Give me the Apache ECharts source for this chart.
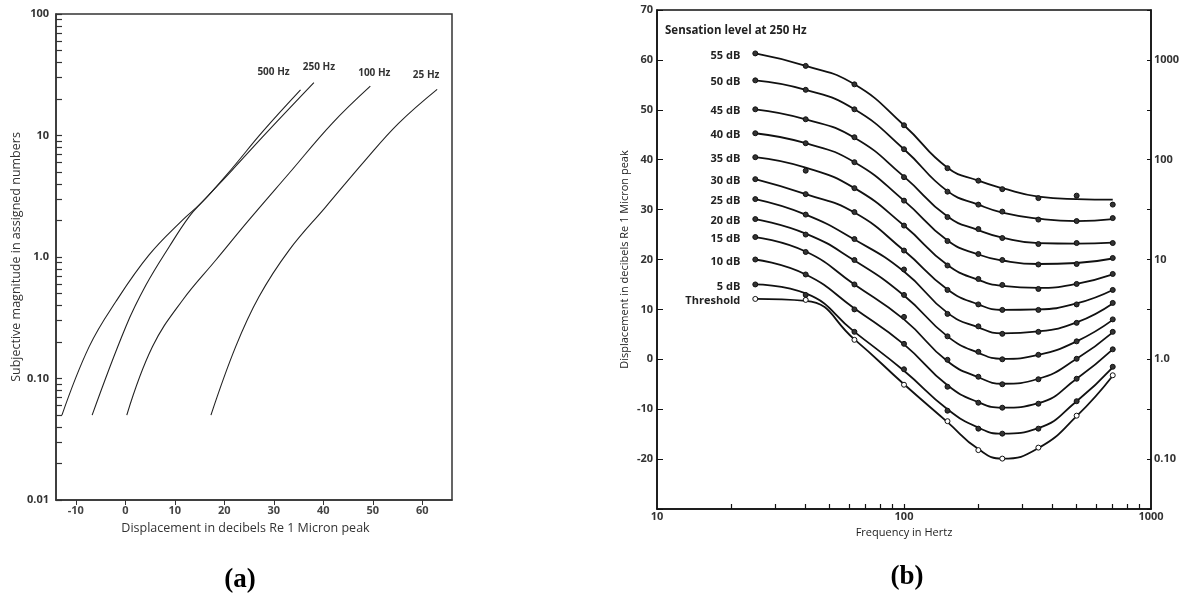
<!DOCTYPE html>
<html><head><meta charset="utf-8">
<script src="https://cdn.jsdelivr.net/npm/echarts@6/dist/echarts.min.js"></script>
<style>html,body{margin:0;padding:0;background:#fff}#c{width:1183px;height:594px}</style>
</head><body><div id="c"></div>
<script>
// ---------- Panel (a) data ----------
const curveNamesA = ['500 Hz', '250 Hz', '100 Hz', '25 Hz'];
const hz500X = [-12.8, -7.3, -1.9, 4.8, 11.6, 15.6, 21.3, 27.7, 35.4];
const hz500Y = [0.05, 0.183, 0.43, 1.04, 2.02, 2.85, 5.2, 10.7, 23.7];
const hz250X = [-6.7, 0.1, 4.2, 8.9, 12.9, 15.6, 21.6, 28.4, 38.1];
const hz250Y = [0.05, 0.267, 0.59, 1.22, 2.15, 2.85, 5.2, 10.4, 27.2];
const hz100X = [0.3, 5.5, 11.6, 18.3, 25.0, 33.1, 41.8, 49.5];
const hz100Y = [0.05, 0.183, 0.443, 0.945, 2.02, 4.89, 12.6, 25.5];
const hz25X = [17.3, 22.3, 27.0, 33.1, 40.5, 48.5, 55.2, 63.0];
const hz25Y = [0.05, 0.183, 0.471, 1.14, 2.59, 6.28, 12.6, 24.0];
const xTicksA = [-10, 0, 10, 20, 30, 40, 50, 60];
const yTicksA = [0.01, 0.1, 1, 10, 100];
const yTickLabelsA = ['0.01', '0.10', '1.0', '10', '100'];
const yMinorTicksA = [0.01,0.02,0.03,0.04,0.05,0.06,0.07,0.08,0.09,
  0.1,0.2,0.3,0.4,0.5,0.6,0.7,0.8,0.9,1,2,3,4,5,6,7,8,9,10,20,30,40,50,60,70,80,90,100];

// ---------- Panel (b) data ----------
const freqs = [25, 40, 63, 100, 150, 200, 250, 350, 500, 700];
const levelNames = ['Threshold','5 dB','10 dB','15 dB','20 dB','25 dB','30 dB','35 dB','40 dB','45 dB','50 dB','55 dB'];
// measured points (dots)
const dotTh = [12.1, 11.9, 3.9, -5.1, -12.4, -18.2, -19.9, -17.7, -11.3, -3.2];
const dot5  = [15.0, 12.9, 5.5, -2.0, -10.3, -13.9, -14.9, -13.9, -8.4, -1.5];
const dot10 = [20.0, 17.0, 10.0, 3.1, -5.5, -8.7, -9.7, -8.9, -3.9, 2.0];
const dot15 = [24.5, 21.5, 15.0, 8.5, -0.1, -3.5, -5.0, -4.0, 0.1, 5.5];
const dot20 = [28.1, 25.0, 19.9, 12.9, 4.6, 1.5, 0.0, 0.9, 3.6, 8.0];
const dot25 = [32.1, 29.0, 24.1, 18.0, 9.1, 6.6, 5.1, 5.5, 7.3, 11.3];
const dot30 = [36.1, 33.1, 29.5, 21.8, 13.9, 11.0, 9.9, 9.9, 11.0, 13.9];
const dot35 = [40.5, 37.8, 34.3, 26.8, 18.8, 16.1, 14.9, 14.1, 15.1, 17.1];
const dot40 = [45.3, 43.3, 39.5, 31.8, 23.7, 21.1, 19.9, 19.0, 19.1, 20.3];
const dot45 = [50.1, 48.1, 44.5, 36.5, 28.5, 26.1, 24.3, 23.1, 23.3, 23.3];
const dot50 = [55.9, 54.0, 50.1, 42.1, 33.6, 31.0, 29.6, 28.0, 27.7, 28.3];
const dot55 = [61.3, 58.8, 55.1, 46.9, 38.3, 35.8, 34.1, 32.3, 32.8, 31.0];
// fitted curves (line position read at the same frequencies)
const fitTh = [12.1, 11.7, 4.0, -5.0, -12.6, -18.0, -19.9, -17.8, -11.4, -3.3];
const fit5  = [15.0, 13.2, 5.5, -2.3, -10.0, -13.7, -14.9, -13.8, -8.4, -1.6];
const fit10 = [20.0, 17.0, 10.2, 3.0, -5.2, -8.6, -9.7, -8.8, -3.9, 2.0];
const fit15 = [24.5, 21.6, 15.0, 8.0, -0.4, -3.6, -4.9, -3.9, 0.1, 5.4];
const fit20 = [28.1, 25.2, 19.8, 12.8, 4.6, 1.3, 0.1, 0.9, 3.6, 7.9];
const fit25 = [32.1, 29.0, 24.0, 17.6, 9.3, 6.4, 5.2, 5.6, 7.4, 11.2];
const fit30 = [36.1, 33.1, 29.4, 21.8, 14.0, 11.0, 9.9, 10.0, 11.2, 13.9];
const fit35 = [40.5, 38.4, 34.3, 26.8, 18.9, 15.9, 14.7, 14.3, 15.1, 17.0];
const fit40 = [45.3, 43.3, 39.5, 31.8, 23.8, 21.0, 19.8, 19.1, 19.3, 20.2];
const fit45 = [50.1, 48.1, 44.4, 36.6, 28.6, 25.9, 24.4, 23.3, 23.2, 23.4];
const fit50 = [55.9, 54.0, 50.1, 42.1, 33.7, 31.0, 29.4, 28.2, 27.7, 28.1];
const fit55 = [61.3, 58.8, 55.1, 46.9, 38.4, 35.8, 34.3, 32.6, 32.1, 32.0];
const xMinorTicksB = [20,30,40,50,60,70,80,90,100,200,300,400,500,600,700,800,900];
const xTickLabelsB = ['10', '100', '1000'];
const rightTickDb = [-20, 0, 20, 40, 60];
const rightTickLabels = ['0.10', '1.0', '10', '100', '1000'];

// ---------- build ----------
const F = 'Open Sans';
const seriesA = [[hz500X, hz500Y], [hz250X, hz250Y], [hz100X, hz100Y], [hz25X, hz25Y]];
const labelPosA = [[-27, -18], [5, -16], [4, -13], [-11, -14]];
const dotsB = [dotTh, dot5, dot10, dot15, dot20, dot25, dot30, dot35, dot40, dot45, dot50, dot55];
const fitsB = [fitTh, fit5, fit10, fit15, fit20, fit25, fit30, fit35, fit40, fit45, fit50, fit55];

const series = [];
seriesA.forEach((pair, k) => {
  const xs = pair[0], ys = pair[1];
  series.push({
    type: 'line', name: curveNamesA[k], xAxisIndex: 0, yAxisIndex: 0,
    smooth: 0.4, symbol: 'circle', symbolSize: 0, showSymbol: true,
    lineStyle: {color: '#222', width: 1.1}, itemStyle: {color: '#222'},
    silent: true, animation: false,
    data: xs.map((x, i) => i === xs.length - 1
      ? {value: [x, ys[i]], label: {show: true, formatter: curveNamesA[k], position: labelPosA[k],
          align: 'center', verticalAlign: 'middle', fontFamily: F, fontWeight: 'bold', fontSize: 10, color: '#333'}}
      : [x, ys[i]])
  });
});
fitsB.forEach((vals, k) => {
  series.push({
    type: 'line', name: levelNames[k] + ' curve', xAxisIndex: 1, yAxisIndex: 2,
    smooth: 0.5, showSymbol: false, symbol: 'none',
    lineStyle: {color: '#111', width: 1.8},
    silent: true, animation: false, z: 2,
    data: freqs.map((f, i) => [f, vals[i]])
  });
});
dotsB.forEach((vals, k) => {
  const isTh = k === 0;
  series.push({
    type: 'scatter', name: levelNames[k], xAxisIndex: 1, yAxisIndex: 2,
    symbol: 'circle', symbolSize: 5,
    itemStyle: {color: isTh ? '#fff' : '#333', borderColor: '#111', borderWidth: 1, opacity: 1},
    silent: true, animation: false, z: 3,
    data: freqs.map((f, i) => i === 0
      ? {value: [f, vals[i]], label: {show: true, formatter: levelNames[k], position: 'left', distance: 12, offset: [0, 2],
          fontFamily: F, fontWeight: 'bold', fontSize: 11, color: '#222'}}
      : [f, vals[i]])
  });
});

const option = {
  backgroundColor: '#fff',
  animation: false,
  textStyle: {fontFamily: F},
  title: [
    {text: 'Sensation level at 250 Hz', left: 665, top: 25, textStyle: {fontFamily: F, fontWeight: 'bold', fontSize: 11.5, color: '#222'}, padding: 0},
    {text: '(a)', left: 240, top: 580, textAlign: 'center', textVerticalAlign: 'middle', padding: 0,
      textStyle: {fontFamily: 'Liberation Serif', fontWeight: 'bold', fontSize: 27, color: '#000'}},
    {text: '(b)', left: 907, top: 577, textAlign: 'center', textVerticalAlign: 'middle', padding: 0,
      textStyle: {fontFamily: 'Liberation Serif', fontWeight: 'bold', fontSize: 27, color: '#000'}}
  ],
  grid: [
    {left: 56, top: 14, width: 396, height: 486, show: true, borderColor: '#333', borderWidth: 1.5, containLabel: false},
    {left: 657, top: 10, width: 494, height: 499, show: true, borderColor: '#111', borderWidth: 1.5, containLabel: false}
  ],
  xAxis: [
    {type: 'value', gridIndex: 0, min: -14, max: 66,
      axisLine: {show: true, onZero: false, lineStyle: {color: '#333', width: 1.5}},
      axisTick: {show: true, inside: false, length: 5, customValues: xTicksA, lineStyle: {color: '#333'}},
      axisLabel: {customValues: xTicksA, margin: 5, fontFamily: F, fontWeight: 'bold', fontSize: 11, color: '#444'},
      splitLine: {show: false},
      name: 'Displacement in decibels Re 1 Micron peak', nameLocation: 'middle', nameGap: 22,
      nameTextStyle: {fontFamily: F, fontSize: 12.5, color: '#333', padding: [0, 17, 0, 0]}},
    {type: 'log', logBase: 10, gridIndex: 1, min: 10, max: 1000,
      axisLine: {show: true, onZero: false, lineStyle: {color: '#111', width: 1.5}},
      axisTick: {show: false},
      axisLabel: {margin: 2, fontFamily: F, fontWeight: 'bold', fontSize: 11, color: '#333',
        formatter: v => { const i = Math.round(Math.log10(v)) - 1; return (i >= 0 && i < xTickLabelsB.length) ? xTickLabelsB[i] : ''; }},
      splitLine: {show: false},
      name: 'Frequency in Hertz', nameLocation: 'middle', nameGap: 16,
      nameTextStyle: {fontFamily: F, fontSize: 11, color: '#222'}},
    {type: 'value', gridIndex: 1, min: 1, max: 3, position: 'bottom',
      axisLine: {show: false, onZero: false}, axisLabel: {show: false}, splitLine: {show: false},
      axisTick: {show: true, inside: true, length: 5, customValues: xMinorTicksB.map(v => Math.log10(v)), lineStyle: {color: '#111', width: 1.2}}}
  ],
  yAxis: [
    {type: 'log', logBase: 10, gridIndex: 0, min: 0.01, max: 100,
      axisLine: {show: true, onZero: false, lineStyle: {color: '#333', width: 1.5}},
      axisTick: {show: false},
      axisLabel: {margin: 7, fontFamily: F, fontWeight: 'bold', fontSize: 11, color: '#333',
        formatter: v => { const i = yTicksA.findIndex(t => Math.abs(Math.log10(t) - Math.log10(v)) < 1e-6); return i >= 0 ? yTickLabelsA[i] : ''; }},
      splitLine: {show: false},
      name: 'Subjective magnitude in assigned numbers', nameLocation: 'middle', nameGap: 33,
      nameTextStyle: {fontFamily: F, fontSize: 12.5, color: '#333'}},
    {type: 'value', gridIndex: 0, min: -2, max: 2, position: 'left',
      axisLine: {show: false, onZero: false}, axisLabel: {show: false}, splitLine: {show: false},
      axisTick: {show: true, inside: true, length: 6, customValues: yMinorTicksA.map(v => Math.log10(v)), lineStyle: {color: '#333', width: 1.2}}},
    {type: 'value', gridIndex: 1, min: -30, max: 70, interval: 10, position: 'left',
      axisLine: {show: true, onZero: false, lineStyle: {color: '#111', width: 1.5}},
      axisTick: {show: true, inside: true, length: 6, lineStyle: {color: '#111'}},
      axisLabel: {margin: 4, fontFamily: F, fontWeight: 'bold', fontSize: 11, color: '#333',
        formatter: v => v === -30 ? '' : String(v)},
      splitLine: {show: false},
      name: 'Displacement in decibels Re 1 Micron peak', nameLocation: 'middle', nameGap: 27,
      nameTextStyle: {fontFamily: F, fontSize: 11, color: '#222'}},
    {type: 'value', gridIndex: 1, min: -30, max: 70, interval: 10, position: 'right',
      axisLine: {show: true, onZero: false, lineStyle: {color: '#111', width: 1.5}},
      axisTick: {show: true, inside: true, length: 4, lineStyle: {color: '#111'}},
      axisLabel: {margin: 3, customValues: rightTickDb, fontFamily: F, fontWeight: 'bold', fontSize: 11, color: '#333',
        formatter: v => { const i = rightTickDb.indexOf(v); return i >= 0 ? rightTickLabels[i] : ''; }},
      splitLine: {show: false}}
  ],
  series: series
};
const chart = echarts.init(document.getElementById('c'), null, {renderer: 'canvas'});
chart.setOption(option);
</script></body></html>
